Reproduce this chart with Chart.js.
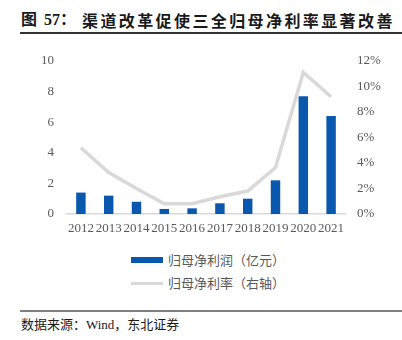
<!DOCTYPE html>
<html>
<head>
<meta charset="utf-8">
<script src="https://cdn.jsdelivr.net/npm/chart.js@4"></script>
<style>
  body { margin: 0; width: 402px; height: 340px; background: #fff; position: relative; overflow: hidden; }
  .t { position: absolute; top: 10px; font-size: 16px; font-weight: bold; color: #1a1a1a; line-height: 20px;
       font-family: "Liberation Serif", "Noto Sans CJK SC", serif; white-space: nowrap; }
  .rule { position: absolute; left: 20px; width: 382px; }
  .legend { position: absolute; left: 131px; font-size: 13px; color: #595959; line-height: 16px;
            font-family: "Noto Sans CJK SC", sans-serif; white-space: nowrap; }
  .legend i { position: absolute; left: 0; width: 32px; }
  .legend span { position: absolute; left: 37px; top: 0; }
  #source { position: absolute; left: 21px; top: 316px; font-size: 13px; color: #1a1a1a; line-height: 18px;
            font-family: "Liberation Serif", "Noto Sans CJK SC", serif; white-space: nowrap; }
  #chartBox { position: absolute; left: 0; top: 40px; width: 402px; height: 200px; }
</style>
</head>
<body>
<div class="t" style="left:21px">图</div>
<div class="t" style="left:44px">57：</div>
<div class="t" style="left:82px; letter-spacing:2.4px; font-family:'Noto Sans CJK SC', sans-serif;">渠道改革促使三全归母净利率显著改善</div>
<div class="rule" style="top:32px; height:1.5px; background:#333;"></div>

<div id="chartBox"><canvas id="myChart" width="402" height="200"></canvas></div>

<div class="legend" style="top:252px"><i style="top:5px; height:6px; background:#0a58ad;"></i><span>归母净利润（亿元）</span></div>
<div class="legend" style="top:275px"><i style="top:6.5px; height:3px; background:#d9d9d9;"></i><span>归母净利率（右轴）</span></div>

<div class="rule" style="top:310px; height:1.5px; background:#808080;"></div>
<div id="source">数据来源：Wind，东北证券</div>

<script>
const years = ["2012", "2013", "2014", "2015", "2016", "2017", "2018", "2019", "2020", "2021"];
// 归母净利润（亿元）
const netProfit = [1.4, 1.2, 0.8, 0.33, 0.37, 0.7, 1.0, 2.2, 7.7, 6.4];
// 归母净利率（%）
const netMargin = [5.2, 3.25, 2.0, 0.8, 0.8, 1.35, 1.8, 3.65, 11.1, 9.2];
const leftTicks = [0, 2, 4, 6, 8, 10];
const rightTicks = [0, 2, 4, 6, 8, 10, 12];

const tickFont = { family: "Liberation Serif", size: 13 };
const tickColor = "#595959";

const ctx = document.getElementById("myChart").getContext("2d");

const myChart = new Chart(ctx, {
  data: {
    labels: years,
    datasets: [{
      type: "line",
      label: "归母净利率（右轴）",
      data: netMargin,
      yAxisID: "y1",
      borderColor: "#d9d9d9",
      borderWidth: 3.5,
      pointRadius: 0,
      tension: 0,
      order: 1
    }, {
      type: "bar",
      label: "归母净利润（亿元）",
      data: netProfit,
      yAxisID: "y",
      backgroundColor: "#0a58ad",
      categoryPercentage: 1,
      barPercentage: 0.34,
      order: 2
    }]
  },
  options: {
    responsive: false,
    animation: false,
    layout: { padding: { top: 21, left: 0, right: 0, bottom: 0 } },
    plugins: {
      legend: { display: false },
      tooltip: { enabled: false }
    },
    scales: {
      x: {
        grid: { display: false, drawTicks: false },
        border: { display: true, color: "#d9d9d9", width: 1.5 },
        ticks: { font: tickFont, color: tickColor, padding: 7, maxRotation: 0, autoSkip: false },
        afterFit: axis => { axis.height = 26; }
      },
      y: {
        position: "left",
        min: 0,
        max: 10,
        afterBuildTicks: axis => { axis.ticks = leftTicks.map(v => ({ value: v })); },
        grid: { display: false, drawTicks: false },
        border: { display: false },
        ticks: { font: tickFont, color: tickColor, padding: 13 },
        afterFit: axis => { axis.width = 67; }
      },
      y1: {
        position: "right",
        min: 0,
        max: 12,
        afterBuildTicks: axis => { axis.ticks = rightTicks.map(v => ({ value: v })); },
        grid: { display: false, drawTicks: false },
        border: { display: false },
        ticks: { font: tickFont, color: tickColor, padding: 12, callback: v => v + "%" },
        afterFit: axis => { axis.width = 57; }
      }
    }
  }
});
</script>
</body>
</html>
